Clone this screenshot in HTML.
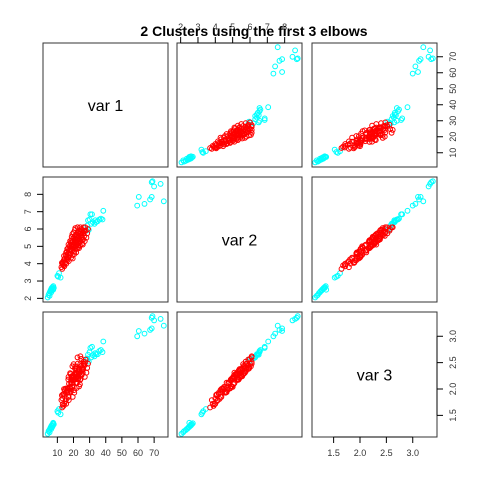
<!DOCTYPE html>
<html><head><meta charset="utf-8"><style>
body{margin:0;background:#fff}
svg{display:block;font-family:"Liberation Sans",Arial,sans-serif}
</style></head><body>
<svg id="c" width="480" height="480"></svg>
<script>
const varNames = ["var 1","var 2","var 3"];
const domains = [[1.1,78.6],[1.79,9.0],[1.09,3.46]];
const ticks1 = [10,20,30,40,50,60,70];
const ticks2 = [2,3,4,5,6,7,8];
const ticks3 = [1.5,2.0,2.5,3.0];
const tickLabels3 = ["1.5","2.0","2.5","3.0"];
const redPts = [[12.5,3.8,1.79],[13,3.7,1.65],[13.2,4.0,1.82],[13.8,3.9,1.68],[14,4.2,1.91],[14.3,3.85,1.72],[14.6,4.3,1.98],[15,4.1,1.77],[15.2,4.5,2.01],[15.5,4.0,1.72],[15.8,4.4,1.95],[16,4.7,1.98],[16.2,4.2,1.93],[16.5,4.55,1.94],[16.8,4.9,2.18],[17,4.35,1.85],[17.2,4.75,2.10],[17.5,5.0,2.04],[17.7,4.5,2.03],[18,4.85,2.02],[18.2,5.2,2.28],[18.4,4.6,1.95],[18.6,5.0,2.19],[18.8,5.35,2.18],[19,4.75,2.12],[19.2,5.1,2.11],[19.4,4.5,2.04],[19.6,5.3,2.17],[19.8,4.9,2.16],[20,5.5,2.24],[20.2,5.05,2.22],[20.4,4.7,1.98],[20.6,5.25,2.29],[20.8,5.6,2.28],[21,4.9,2.18],[21.2,5.4,2.21],[21.4,5.0,2.21],[21.6,5.7,2.31],[21.8,5.2,2.28],[22,4.85,2.02],[22.2,5.5,2.38],[22.4,5.1,2.12],[22.6,5.8,2.48],[22.8,5.3,2.18],[23,4.95,2.20],[23.2,5.6,2.28],[23.4,5.2,2.29],[23.6,5.9,2.38],[23.8,5.4,2.36],[24,5.05,2.09],[24.2,5.75,2.47],[24.5,5.3,2.19],[24.8,6.0,2.57],[25,5.5,2.26],[25.3,5.15,2.28],[25.6,5.8,2.37],[26,5.4,2.38],[26.3,6.1,2.48],[26.7,5.6,2.47],[27,5.3,2.23],[27.5,5.9,2.56],[28,5.5,2.31],[14.8,4.05,1.89],[15.7,4.25,1.81],[16.6,4.4,2.01],[17.4,4.6,1.93],[18.3,4.8,2.13],[19.1,4.95,2.05],[19.9,5.15,2.26],[20.7,5.35,2.18],[21.5,5.55,2.39],[22.3,5.65,2.29],[23.1,5.45,2.37],[23.9,5.7,2.31],[24.7,5.65,2.44],[25.5,5.95,2.41],[13.5,4.1,1.90],[16.1,4.85,2.01],[17.9,5.3,2.30],[18.9,5.55,2.24],[20.1,5.8,2.47],[21.1,6.05,2.43],[22.5,6.1,2.60],[19.5,4.3,1.85],[21.7,4.65,2.12],[23.5,4.9,2.05],[25.8,5.1,2.31],[26.8,5.9,2.45],[24.3,6.1,2.62],[20.5,4.55,1.93],[18.5,4.35,2.00],[17.1,4.15,1.79],[22.9,5.05,2.24],[24.1,5.25,2.17],[19.3,5.7,2.43],[20.9,5.95,2.39],[26.2,5.75,2.52],[27.3,6.1,2.51],[28.5,5.75,2.40],[21.3,5.2,2.27],[22.1,5.35,2.19],[16.9,5.1,2.23],[15.4,4.65,1.94],[14.1,4.45,2.00],[13.3,3.95,1.71],[12.8,4.05,1.88],[29,6.0,2.48],[25.2,5.35,2.35],[23.3,5.75,2.33]];
const cyanPts = [[4,2.05,1.15],[4.5,2.2,1.2],[5,2.3,1.22],[5.5,2.4,1.25],[5.8,2.45,1.27],[6,2.5,1.28],[6.3,2.55,1.30],[6.5,2.6,1.31],[6.7,2.45,1.27],[7,2.65,1.33],[7.2,2.55,1.30],[7.5,2.7,1.35],[7.8,2.6,1.33],[6.2,2.35,1.24],[5.2,2.15,1.18],[7.4,2.5,1.36],[10,3.3,1.58],[11,3.45,1.62],[10.5,3.25,1.55],[12,3.2,1.52],[28.5,6.2,2.58],[29,6.5,2.65],[30,6.55,2.7],[30.5,6.85,2.78],[31.5,6.85,2.8],[32,6.4,2.64],[33,6.3,2.62],[33.5,6.5,2.68],[35,6.45,2.66],[36,6.55,2.72],[37,6.6,2.74],[38,6.55,2.7],[38.5,7.05,2.9],[29.5,5.95,2.52],[28,5.9,2.55],[31,6.3,2.6],[34,6.4,2.66],[28.8,6.0,2.56],[59.5,7.35,3.0],[60.5,7.85,3.1],[64,7.45,3.05],[67.5,7.7,3.12],[68.5,7.85,3.15],[68.5,8.7,3.35],[69,8.75,3.38],[70,8.45,3.3],[74,8.6,3.33],[76,7.6,3.2]];

const NS="http://www.w3.org/2000/svg";
const svg=document.getElementById('c');
const colX=[[43,168],[177,302],[312,437]];
const rowY=[[43,167],[177,302],[312,437]];
function sx(v,j,val){const d=domains[v];return colX[j][0]+(val-d[0])/(d[1]-d[0])*(colX[j][1]-colX[j][0]);}
function sy(v,i,val){const d=domains[v];return rowY[i][1]-(val-d[0])/(d[1]-d[0])*(rowY[i][1]-rowY[i][0]);}
function mk(tag,attrs,parent){const e=document.createElementNS(NS,tag);for(const k in attrs)e.setAttribute(k,attrs[k]);(parent||svg).appendChild(e);return e;}

for(let i=0;i<3;i++)for(let j=0;j<3;j++){
  const g=mk('g',{});
  
  
  if(i===j){
    const t=mk('text',{x:(colX[j][0]+colX[j][1])/2,y:(rowY[i][0]+rowY[i][1])/2+6,'text-anchor':'middle','font-size':16,fill:'#000'},g);
    t.textContent=varNames[i];
    
    
  } else {
    [[cyanPts,'#00FFFF'],[redPts,'#FF0000']].forEach(([pts,col])=>{
      pts.forEach(p=>{
        const c=mk('circle',{cx:sx(j,j,p[j]).toFixed(1),cy:sy(i,i,p[i]).toFixed(1),r:2.4,fill:'none',stroke:col,'stroke-width':1},g);
        
        
      });
    });
  }
  const r=mk('rect',{x:colX[j][0],y:rowY[i][0],width:colX[j][1]-colX[j][0],height:rowY[i][1]-rowY[i][0],fill:'none',stroke:'#333','stroke-width':1},g);
  
  
}
const tickSets=[ticks1,ticks2,ticks3];
const labelSets=[ticks1.map(String),ticks2.map(String),tickLabels3];
function axis(side,v,idx){
  const g=mk('g',{});
  
  
  const tk=tickSets[v],lb=labelSets[v];
  const st={stroke:'#000','stroke-width':1};
  if(side==='top'||side==='bottom'){
    const y0=side==='top'?rowY[0][0]:rowY[2][1];const dir=side==='top'?-1:1;
    const xs=tk.map(t=>sx(v,idx,t));
    mk('line',Object.assign({x1:xs[0],x2:xs[xs.length-1],y1:y0,y2:y0},st),g);
    xs.forEach((x,k)=>{mk('line',Object.assign({x1:x,x2:x,y1:y0,y2:y0+dir*6},st),g);
      const t=mk('text',{x:x,y:side==='top'?y0-13:y0+19,'text-anchor':'middle','font-size':9,fill:'#333'},g);t.textContent=lb[k];});
  } else {
    const x0=side==='left'?colX[0][0]:colX[2][1];const dir=side==='left'?-1:1;
    const ys=tk.map(t=>sy(v,idx,t));
    mk('line',Object.assign({x1:x0,x2:x0,y1:ys[0],y2:ys[ys.length-1]},st),g);
    ys.forEach((y,k)=>{mk('line',Object.assign({x1:x0,x2:x0+dir*6,y1:y,y2:y},st),g);
      const tx=side==='left'?x0-12:x0+19;
      const t=mk('text',{x:tx,y:y,'text-anchor':'middle','font-size':9,fill:'#333',transform:'rotate(-90 '+tx+' '+y+')'},g);t.textContent=lb[k];});
  }
}
axis('top',1,1);
axis('right',0,0);
axis('left',1,1);
axis('bottom',0,0);
axis('bottom',2,2);
axis('right',2,2);
const title=mk('text',{x:254,y:36,'text-anchor':'middle','font-size':14,'font-weight':'bold',fill:'#000'});
title.textContent='2 Clusters using the first 3 elbows';


</script>
</body></html>
